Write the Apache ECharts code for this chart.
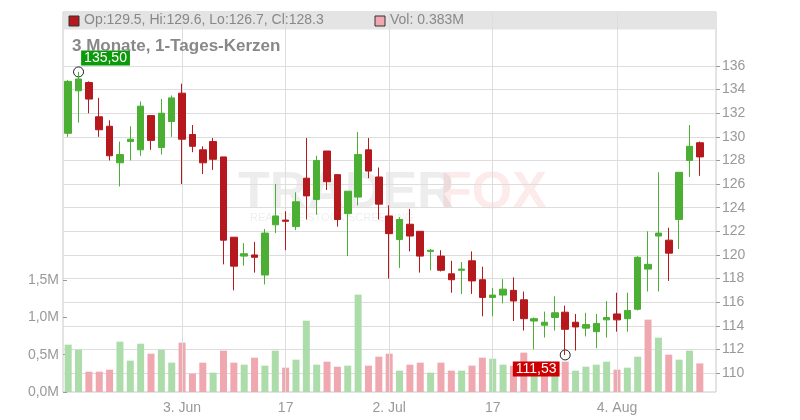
<!DOCTYPE html>
<html><head><meta charset="utf-8">
<script src="https://cdn.jsdelivr.net/npm/echarts@6/dist/echarts.min.js"></script>
<style>html,body{margin:0;padding:0;background:#fff}#c{width:800px;height:420px}</style>
</head><body><div id="c"></div>
<script>
// [open, close, low, high]
const opens  = [130.3,133.9,134.6,131.7,130.9,127.8,129.6,128.9,131.8,129.1,131.3,133.7,130.2,128.9,129.6,128.3,121.5,119.9,120.0,118.3,122.55,122.95,122.4,126.5,124.7,128.8,126.8,123.5,124.9,128.9,126.6,123.3,121.3,122.6,122.0,120.3,119.9,118.4,118.7,119.5,117.9,116.4,116.6,117.0,116.2,114.4,114.05,114.7,115.15,114.3,113.8,113.5,114.5,115.0,114.6,115.4,118.8,121.6,121.25,123.0,128.0,129.5];
const closes = [134.7,134.9,133.2,130.6,128.4,128.5,129.8,132.6,129.7,132.0,133.3,129.8,129.2,127.8,128.1,121.25,119.05,120.1,119.8,121.85,123.3,122.85,124.5,125.0,128.0,126.2,123.0,125.4,128.5,127.1,124.3,121.8,123.0,121.6,119.9,120.4,118.7,117.9,118.8,117.8,116.4,116.6,117.1,116.1,114.6,114.6,114.3,115.1,113.7,113.9,114.1,114.2,114.7,114.5,115.3,119.8,119.2,121.85,120.15,127.0,129.2,128.3];
const lows   = [130.0,131.2,132.0,130.0,128.0,125.8,128.0,128.4,128.9,128.5,130.0,126.0,128.7,126.85,127.2,119.2,117.0,119.1,118.5,117.5,121.85,120.4,122.1,123.0,123.4,125.5,122.4,119.9,124.2,126.5,123.0,118.0,118.9,120.3,118.5,118.7,118.6,116.8,116.7,116.7,114.8,114.8,115.9,114.4,113.6,112.0,113.0,113.6,111.53,111.9,113.1,112.1,113.0,113.5,113.5,115.3,116.9,116.9,117.8,120.5,126.6,126.7];
const highs  = [134.8,135.5,134.7,133.3,131.4,129.6,130.9,133.0,131.8,133.2,133.5,134.5,131.0,129.2,129.9,128.3,121.5,121.0,121.1,122.2,126.0,123.7,125.3,129.9,128.4,128.8,126.8,125.4,130.4,129.9,127.4,124.2,123.2,123.9,122.0,120.5,120.4,119.5,119.4,120.3,119.0,117.2,117.95,118.1,116.9,114.7,115.2,116.5,115.7,115.0,115.1,115.0,116.1,116.8,116.8,119.9,122.0,127.0,122.3,127.0,131.0,129.6];
const volumes = [0.634,0.567,0.272,0.272,0.299,0.674,0.42,0.647,0.513,0.567,0.393,0.661,0.246,0.393,0.259,0.554,0.393,0.366,0.46,0.353,0.554,0.326,0.433,0.955,0.366,0.406,0.339,0.353,1.304,0.353,0.473,0.513,0.286,0.366,0.393,0.259,0.393,0.286,0.286,0.353,0.46,0.446,0.366,0.35,0.527,0.33,0.32,0.31,0.406,0.286,0.339,0.366,0.406,0.299,0.326,0.473,0.969,0.728,0.5,0.433,0.554,0.383];
const dateLabels = {11:'3. Jun',21:'17',31:'2. Jul',41:'17',53:'4. Aug'};
const priceTicks = [110,136];
const volTicks = ['0,0M','0,5M','1,0M','1,5M'];

const cats = opens.map((_, i) => String(i));
const candleData = opens.map((o, i) => [o, closes[i], lows[i], highs[i]]);
const RED='#b5191d', GREEN='#4aaf33', VRED='#efa7b0', VGREEN='#abdcaa';
const volData = volumes.map((v, i) => ({value: v, itemStyle: {color: (i === 0 ? closes[i] >= opens[i] : closes[i] >= closes[i-1]) ? VGREEN : VRED}}));
const L = 63, W = 642, FW = 653;
const chart = echarts.init(document.getElementById('c'));
const axisGray = '#999';
chart.setOption({
  animation: false,
  grid: [
    {left: L, width: W, top: 66, height: 307},
    {left: L, width: W, top: 280, height: 112},
    {left: L, width: W, top: 12, height: 380},
    {left: L, width: FW, top: 66, height: 307}
  ],
  xAxis: [
    {type: 'category', data: cats, gridIndex: 0, show: false},
    {type: 'category', data: cats, gridIndex: 1, axisLine: {show: false}, axisTick: {show: false},
      axisLabel: {interval: 0, color: axisGray, fontSize: 14, fontFamily: 'Liberation Sans', margin: 9, formatter: (v) => dateLabels[v] || ''}},
    {type: 'category', data: cats, gridIndex: 2, show: false},
    {type: 'value', gridIndex: 3, show: false}
  ],
  yAxis: [
    {type: 'value', gridIndex: 0, position: 'right', offset: FW - W, min: priceTicks[0], max: priceTicks[1], interval: 2,
      axisLine: {show: false}, axisTick: {show: true, inside: false, length: 4, lineStyle: {color: '#999'}},
      axisLabel: {color: axisGray, fontSize: 14, fontFamily: 'Liberation Sans', margin: 6},
      splitLine: {show: false}},
    {type: 'value', gridIndex: 1, position: 'left', min: 0, max: 1.5, interval: 0.5,
      axisLine: {show: false}, axisTick: {show: true, inside: true, length: 4, lineStyle: {color: '#999'}},
      axisLabel: {color: axisGray, fontSize: 14, fontFamily: 'Liberation Sans', margin: 4, formatter: (v) => volTicks[Math.round(v * 2)]},
      splitLine: {show: false}},
    {type: 'value', gridIndex: 2, show: false, min: 0, max: 1},
    {type: 'value', gridIndex: 3, min: priceTicks[0], max: priceTicks[1], interval: 2, show: true,
      axisLine: {show: false}, axisTick: {show: false}, axisLabel: {show: false},
      splitLine: {lineStyle: {color: '#ddd'}}}
  ],
  graphic: [
    {type: 'rect', z: -10, shape: {x: L, y: 12, width: FW, height: 380}, style: {fill: 'none', stroke: '#c8c8c8', lineWidth: 1}},
    {type: 'rect', z: -5, shape: {x: L + 0.5, y: 12.5, width: FW - 1, height: 17}, style: {fill: '#e4e4e4'}},
    {type: 'rect', z: 10, shape: {x: 69, y: 16, width: 10, height: 10}, style: {fill: RED, stroke: '#333', lineWidth: 1}},
    {type: 'text', z: 10, left: 84, top: 13, style: {text: 'Op:129.5, Hi:129.6, Lo:126.7, Cl:128.3', fill: '#888', fontSize: 14, fontFamily: 'Liberation Sans'}},
    {type: 'rect', z: 10, shape: {x: 375, y: 16, width: 10, height: 10}, style: {fill: VRED, stroke: '#333', lineWidth: 1}},
    {type: 'text', z: 10, left: 390, top: 13, style: {text: 'Vol: 0.383M', fill: '#888', fontSize: 14, fontFamily: 'Liberation Sans'}},
    {type: 'text', z: 10, left: 72, top: 38, style: {text: '3 Monate, 1-Tages-Kerzen', fill: '#888', fontSize: 17, fontWeight: 'bold', fontFamily: 'Liberation Sans'}},
    {type: 'text', z: -3, left: 238, top: 168, style: {text: 'TRADER', fill: 'rgba(0,0,0,0.07)', fontSize: 52, fontWeight: 'bold', fontFamily: 'Liberation Sans'}},
    {type: 'text', z: -3, left: 440, top: 168, style: {text: 'FOX', fill: 'rgba(240,80,90,0.12)', fontSize: 52, fontWeight: 'bold', fontFamily: 'Liberation Sans'}},
    {type: 'text', z: -3, left: 250, top: 212, style: {text: 'REALTIME STOCK SCREENING', fill: 'rgba(0,0,0,0.07)', fontSize: 11, fontFamily: 'Liberation Sans'}}
  ],
  series: [
    {type: 'line', xAxisIndex: 2, yAxisIndex: 2, data: [], silent: true,
      markLine: {silent: true, symbol: 'none', label: {show: false}, lineStyle: {color: '#ddd', type: 'solid', width: 1},
        data: Object.keys(dateLabels).map(k => ({xAxis: Number(k)}))}},
    {type: 'line', xAxisIndex: 3, yAxisIndex: 3, data: [], silent: true},
    {type: 'bar', xAxisIndex: 1, yAxisIndex: 1, data: volData, barWidth: 7, z: 1},
    {type: 'candlestick', xAxisIndex: 0, yAxisIndex: 0, data: candleData, barWidth: 7, z: 5,
      itemStyle: {color: GREEN, color0: RED, borderColor: GREEN, borderColor0: RED, borderWidth: 1},
      markPoint: {symbol: 'circle', symbolSize: 10, silent: true,
        itemStyle: {color: 'rgba(255,255,255,0)', borderColor: '#222', borderWidth: 1},
        data: [
          {coord: ['1', 135.5], label: {show: true, formatter: '135,50', color: '#fff', fontSize: 14, fontFamily: 'Liberation Sans', backgroundColor: '#0a9a0a', padding: [1, 3, 0, 3], offset: [27, -14]}},
          {coord: ['48', 111.53], label: {show: true, formatter: '111,53', color: '#fff', fontSize: 14, fontFamily: 'Liberation Sans', backgroundColor: '#cc0000', padding: [1, 3, 0, 3], offset: [-29, 14]}}
        ]}}
  ]
});
</script></body></html>
